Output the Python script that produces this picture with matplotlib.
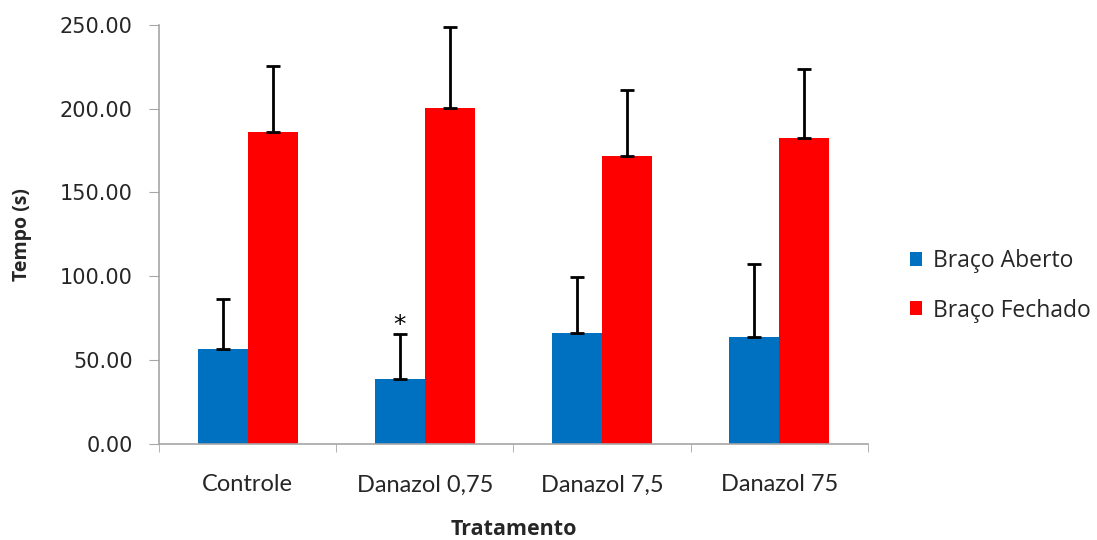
import matplotlib
matplotlib.use("Agg")
import matplotlib.pyplot as plt
import numpy as np

# --- Data ---
tratamentos = ["Controle", "Danazol 0,75", "Danazol 7,5", "Danazol 75"]
braco_aberto = [56.7, 38.6, 65.9, 63.7]
erro_aberto = [29.7, 26.7, 33.6, 43.6]
braco_fechado = [186.1, 200.3, 171.6, 182.7]
erro_fechado = [39.6, 48.5, 39.4, 40.8]

plt.rcParams['font.family'] = ['Open Sans', 'DejaVu Sans']
axis_gray = '#a6a6a6'
text_col = '#262626'

# --- Plotting ---
fig = plt.figure(figsize=(10.97, 5.40), dpi=100)
ax = fig.add_axes([0.145, 0.178, 0.646, 0.776])

x = np.arange(len(tratamentos))
w = 0.282
err_kw = dict(ecolor='black', elinewidth=2, capsize=5, capthick=2)

ax.bar(x - w/2, braco_aberto, w, color='#0070C0', label='Braço Aberto',
       yerr=[np.zeros(4), erro_aberto], error_kw=err_kw)
ax.bar(x + w/2, braco_fechado, w, color='#FF0000', label='Braço Fechado',
       yerr=[np.zeros(4), erro_fechado], error_kw=err_kw)

# significance marker on Danazol 0,75 (open arm)
ax.text(x[1] - w/2, braco_aberto[1] + erro_aberto[1] - 1.5, '*',
        ha='center', va='bottom', fontsize=18, family='DejaVu Sans')

ax.set_xlim(-0.5, len(tratamentos) - 0.5)
ax.set_ylim(0, 250)
ax.set_yticks(np.arange(0, 251, 50))
ax.set_yticklabels([f"{v:.2f}" for v in np.arange(0, 251, 50)], fontsize=15,
                   family=['DejaVu Sans'], color=text_col)
ax.yaxis.set_tick_params(length=7, color=axis_gray, pad=12)

ax.set_xticks(x)
ax.set_xticklabels(tratamentos, fontsize=17, family=['Lato', 'DejaVu Sans'],
                   color=text_col)
ax.xaxis.set_tick_params(length=0, pad=22)
ax.set_xticks(np.arange(-0.5, len(tratamentos)), minor=True)
ax.xaxis.set_tick_params(which='minor', length=6, color=axis_gray)

for side in ['top', 'right']:
    ax.spines[side].set_visible(False)
for side in ['left', 'bottom']:
    ax.spines[side].set_color(axis_gray)
    ax.spines[side].set_linewidth(1.2)

ax.set_ylabel("Tempo (s)", fontsize=14, fontweight='bold', labelpad=20,
              color=text_col)
ax.set_xlabel("Tratamento", fontsize=15.5, fontweight='bold', labelpad=17,
              color=text_col)

ax.legend(loc='center left', bbox_to_anchor=(1.03, 0.377), frameon=False,
          fontsize=16.5, handlelength=0.55, handleheight=0.55, labelspacing=1.1,
          handletextpad=0.45, labelcolor=text_col)

fig.savefig("out.png", dpi=100)
